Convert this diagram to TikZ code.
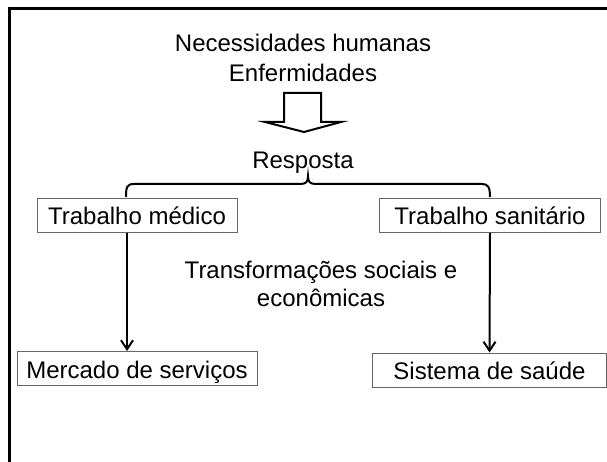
\documentclass[tikz,border=0pt]{standalone}
\usepackage{fontspec}
\setmainfont{Liberation Sans}
\usetikzlibrary{arrows.meta}
\begin{document}
\begin{tikzpicture}[x=1pt, y=-1pt, font=\fontsize{24}{30}\selectfont,
  txt/.style={inner sep=0pt},
  box/.style={draw=black!60, line width=1pt, inner sep=0pt, minimum height=34pt, text height=19pt, text depth=0pt},
  conn/.style={line width=2pt, -{Straight Barb[length=9pt, width=12pt, line width=2pt]}},
  thick line/.style={line width=2pt, line join=miter}]
\useasboundingbox (0,0) rectangle (607,462);
\draw[line width=3pt] (9,462) -- (9,9) -- (607,9);
\node[txt, align=center] (nec) at (303,58.3) {Necessidades humanas\\Enfermidades};
\draw[thick line] (284,93) -- (321,93) -- (321,122) -- (341,122) -- (304,132) -- (265,122) -- (284,122) -- cycle;
\node[txt, anchor=base] (resp) at (303,169) {Resposta};
\draw[thick line] (126,197) .. controls (126,187) and (127,184) .. (134,184) -- (300,184) .. controls (306,184) and (308,182) .. (308,176) .. controls (308,182) and (310,184) .. (316,184) -- (482,184) .. controls (488,184) and (490,187) .. (490,197);
\node[box, minimum width=200pt] (medico) at (137,215.5) {Trabalho médico};
\node[box, minimum width=221pt] (sanit) at (490,215.5) {Trabalho sanitário};
\node[txt, align=center, font=\fontsize{24}{28}\selectfont] (transf) at (321,284) {Transformações sociais e\\econômicas};
\node[box, minimum width=240pt] (mercado) at (137,368.5) {Mercado de serviços};
\node[box, minimum width=234pt] (sistema) at (489.5,370) {Sistema de saúde};
\draw[conn] ([xshift=-10pt]medico.south) -- ([xshift=-10pt]mercado.north);
\draw[conn] (sanit.south) -- (sistema.north);
\end{tikzpicture}
\end{document}
